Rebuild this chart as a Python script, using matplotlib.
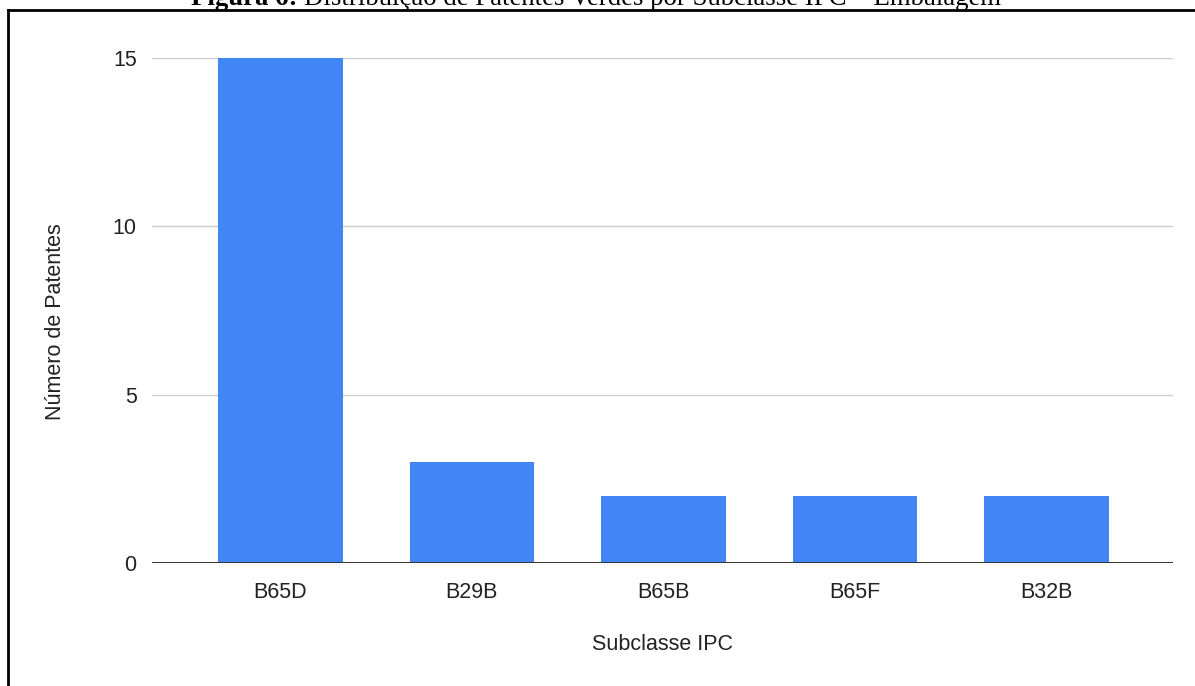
import matplotlib.pyplot as plt
from matplotlib.lines import Line2D

# dados do gráfico
subclasses = ['B65D', 'B29B', 'B65B', 'B65F', 'B32B']
patentes = [15, 3, 2, 2, 2]
y_ticks = [0, 5, 10, 15]

W, H = 1195, 686
fig = plt.figure(figsize=(W / 100, H / 100), dpi=100)
fig.patch.set_facecolor('white')

# área do gráfico (em pixels da imagem)
left, right, top, bottom = 152, 1173, 58, 563
ax = fig.add_axes([left / W, 1 - bottom / H, (right - left) / W, (bottom - top) / H])

ax.bar(range(len(subclasses)), patentes, width=0.65, color='#4285f4', zorder=2)
ax.set_xlim(-0.67, 4.66)
ax.set_ylim(0, 15)
ax.set_yticks(y_ticks)
ax.set_xticks(range(len(subclasses)))
ax.set_xticklabels(subclasses)

for v in y_ticks[1:]:
    ax.axhline(v, color='#cccccc', lw=1, zorder=1)
ax.axhline(0, color='#333333', lw=1.4, zorder=3)

for s in ax.spines.values():
    s.set_visible(False)
ax.tick_params(length=0, labelsize=15.5, labelcolor='#222222', pad=11)
ax.tick_params(axis='x', pad=14)
for lb in ax.get_xticklabels() + ax.get_yticklabels():
    lb.set_fontfamily('Liberation Sans')

fig.text(56 / W, 1 - 322 / H, 'Número de Patentes', rotation=90, ha='center', va='center',
         fontsize=15.5, color='#222222', family='Liberation Sans')
fig.text(663 / W, 1 - 645 / H, 'Subclasse IPC', ha='center', va='center',
         fontsize=15.5, color='#222222', family='Liberation Sans')

# moldura (só aparecem os lados esquerdo e superior)
by = 1 - 9.5 / H
fig.add_artist(Line2D([8 / W, 8 / W], [0, by], color='black', lw=2, transform=fig.transFigure))
fig.add_artist(Line2D([8 / W, 1], [by, by], color='black', lw=2, transform=fig.transFigure))

# título cortado no topo
t1 = fig.text(191 / W, 1 - 5 / H, 'Figura 6:', ha='left', va='baseline', fontsize=19.3,
              fontweight='bold', family='Liberation Serif')
fig.canvas.draw()
bb = t1.get_window_extent()
fig.text((bb.x1 + 6) / W, 1 - 5 / H, 'Distribuição de Patentes Verdes por Subclasse IPC – Embalagem',
         ha='left', va='baseline', fontsize=19.3, family='Liberation Serif')

fig.savefig('out.png', dpi=100, facecolor='white')
